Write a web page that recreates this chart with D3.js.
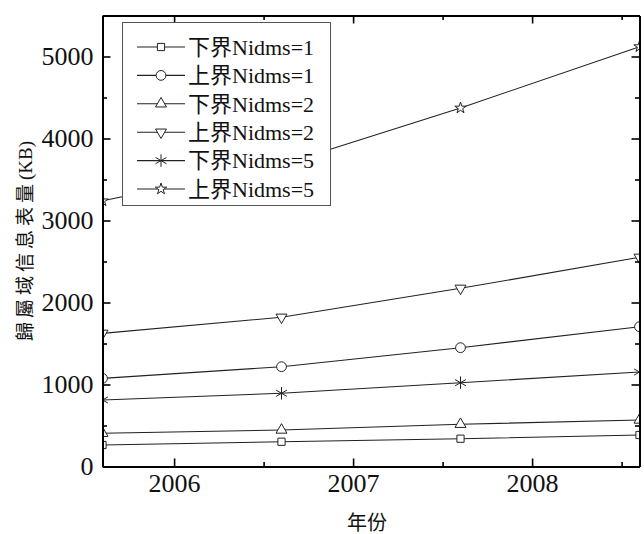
<!DOCTYPE html>
<html>
<head>
<meta charset="utf-8">
<script src="https://cdnjs.cloudflare.com/ajax/libs/d3/7.8.5/d3.min.js"></script>
<style>
  body { margin: 0; background: #fff; }
  text { font-family: "Liberation Serif", "Noto Sans CJK SC", serif; fill: #111; }
</style>
</head>
<body>
<svg id="chart" width="644" height="534"></svg>
<script>
// data
var years = [2005.6, 2006.6, 2007.6, 2008.6];
var lowerN1 = [262, 302, 339, 384];
var upperN1 = [1075, 1217, 1449, 1705];
var lowerN2 = [405, 445, 515, 567];
var upperN2 = [1624, 1820, 2173, 2551];
var lowerN5 = [811, 893, 1022, 1152];
var upperN5 = [3240, 3680, 4372, 5120];

var seriesNames = ["下界Nidms=1", "上界Nidms=1", "下界Nidms=2", "上界Nidms=2", "下界Nidms=5", "上界Nidms=5"];
var seriesValues = [lowerN1, upperN1, lowerN2, upperN2, lowerN5, upperN5];

var xTicks = [2006, 2007, 2008];
var xMinorTicks = [2006.5, 2007.5, 2008.5];
var yTicks = [0, 1000, 2000, 3000, 4000, 5000];
var yMinorTicks = [500, 1500, 2500, 3500, 4500, 5500];

var svg = d3.select("#chart");
var plotLeft = 102.5, plotRight = 639.5, plotTop = 15.5, plotBottom = 466.5;
var serif = "'Liberation Serif', 'Noto Sans CJK SC', serif";

var x = d3.scaleLinear().domain([2005.6, 2008.6]).range([plotLeft, plotRight]);
var y = d3.scaleLinear().domain([0, 5500]).range([plotBottom, plotTop]);

// marker shapes, in legend order
var shapes = [
    { type: d3.symbolSquare, size: 52, rot: 0 },
    { type: d3.symbolCircle, size: 75, rot: 0 },
    { type: d3.symbolTriangle, size: 52, rot: 0 },
    { type: d3.symbolTriangle, size: 52, rot: 180 },
    { type: d3.symbolAsterisk, size: 110, rot: 0 },
    { type: d3.symbolStar, size: 40, rot: 0 }
];

svg.append("clipPath").attr("id", "plotClip")
    .append("rect")
    .attr("x", plotLeft).attr("y", plotTop)
    .attr("width", plotRight - plotLeft).attr("height", plotBottom - plotTop);

var plot = svg.append("g").attr("clip-path", "url(#plotClip)");

var line = d3.line()
    .x(function (d, i) { return x(years[i]); })
    .y(function (d) { return y(d); });

function drawMarker(g, k, px, py) {
    var s = shapes[k];
    g.append("path")
        .attr("d", d3.symbol().type(s.type).size(s.size)())
        .attr("transform", "translate(" + px + "," + py + ") rotate(" + s.rot + ")")
        .attr("fill", k == 4 ? "none" : "#fff")
        .attr("stroke", "#222")
        .attr("stroke-width", 1);
}

seriesValues.forEach(function (vals, k) {
    plot.append("path")
        .attr("d", line(vals))
        .attr("fill", "none")
        .attr("stroke", "#222")
        .attr("stroke-width", 1.1);
    vals.forEach(function (v, i) {
        drawMarker(plot, k, x(years[i]), y(v));
    });
});

// axes, ticks pointing inward
function styleAxis(g) {
    g.attr("font-family", serif);
    g.select(".domain").attr("stroke", "#000").attr("stroke-width", 2);
    g.selectAll(".tick line").attr("stroke", "#000").attr("stroke-width", 1.6);
    g.selectAll(".tick text")
        .style("font-family", serif)
        .style("font-size", "26px")
        .attr("fill", "#111");
}

svg.append("g").attr("transform", "translate(0," + plotBottom + ")")
    .call(d3.axisBottom(x).tickValues(xMinorTicks).tickSize(-4.5).tickSizeOuter(0).tickFormat(""))
    .call(styleAxis);
svg.append("g").attr("transform", "translate(0," + plotTop + ")")
    .call(d3.axisTop(x).tickValues(xMinorTicks).tickSize(-4.5).tickSizeOuter(0).tickFormat(""))
    .call(styleAxis);
svg.append("g").attr("transform", "translate(0," + plotBottom + ")")
    .call(d3.axisBottom(x).tickValues(xTicks).tickSize(-8).tickSizeOuter(0).tickPadding(7).tickFormat(d3.format("d")))
    .call(styleAxis);
svg.append("g").attr("transform", "translate(0," + plotTop + ")")
    .call(d3.axisTop(x).tickValues(xTicks).tickSize(-8).tickSizeOuter(0).tickFormat(""))
    .call(styleAxis);

svg.append("g").attr("transform", "translate(" + plotLeft + ",0)")
    .call(d3.axisLeft(y).tickValues(yMinorTicks).tickSize(-4.5).tickSizeOuter(0).tickFormat(""))
    .call(styleAxis);
svg.append("g").attr("transform", "translate(" + plotRight + ",0)")
    .call(d3.axisRight(y).tickValues(yMinorTicks).tickSize(-4.5).tickSizeOuter(0).tickFormat(""))
    .call(styleAxis);
svg.append("g").attr("transform", "translate(" + plotLeft + ",0)")
    .call(d3.axisLeft(y).tickValues(yTicks).tickSize(-8).tickSizeOuter(0).tickPadding(9).tickFormat(d3.format("d")))
    .call(styleAxis);
svg.append("g").attr("transform", "translate(" + plotRight + ",0)")
    .call(d3.axisRight(y).tickValues(yTicks).tickSize(-8).tickSizeOuter(0).tickFormat(""))
    .call(styleAxis);

// axis titles
svg.append("text")
    .attr("x", (plotLeft + plotRight) / 2 - 4)
    .attr("y", 530)
    .attr("text-anchor", "middle")
    .style("font-size", "20px")
    .text("年份");

var yTitle = svg.append("text")
    .attr("transform", "translate(32,241) rotate(-90)")
    .attr("text-anchor", "middle")
    .style("font-size", "19px");
yTitle.append("tspan").style("letter-spacing", "4px").text("歸屬域信息表量");
yTitle.append("tspan").text("(KB)");

// legend
var legend = svg.append("g");
legend.append("rect")
    .attr("x", 122.5).attr("y", 22.5)
    .attr("width", 208).attr("height", 183)
    .attr("fill", "#fff")
    .attr("stroke", "#555")
    .attr("stroke-width", 1);

seriesNames.forEach(function (name, k) {
    var ly = 47 + k * 28.4;
    legend.append("line")
        .attr("x1", 137).attr("x2", 185)
        .attr("y1", ly).attr("y2", ly)
        .attr("stroke", "#222").attr("stroke-width", 1.1);
    drawMarker(legend, k, 161, ly);
    legend.append("text")
        .attr("x", 188).attr("y", ly)
        .attr("dy", "0.35em")
        .style("font-size", "22px")
        .text(name);
});
</script>
</body>
</html>
